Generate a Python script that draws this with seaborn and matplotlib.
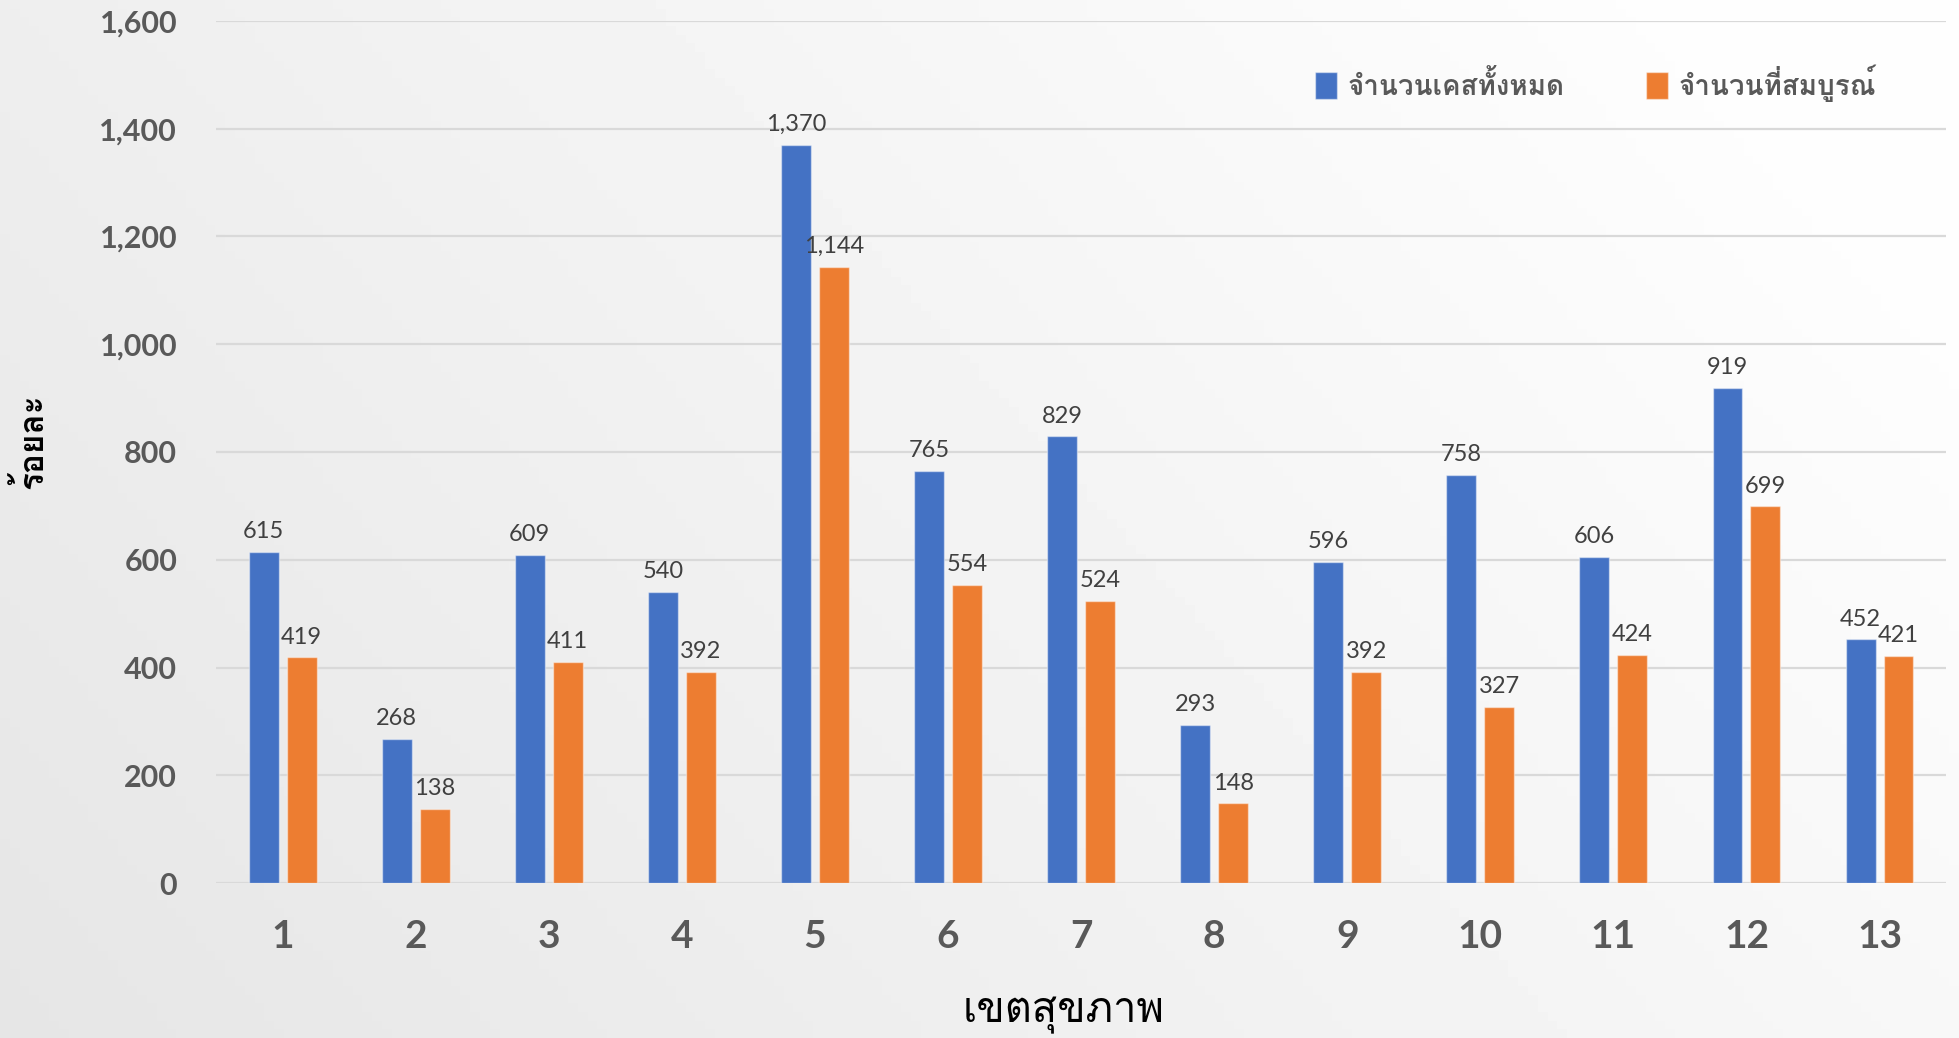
import numpy as np
import pandas as pd
import matplotlib
matplotlib.use("Agg")
import matplotlib.pyplot as plt
import seaborn as sns
from matplotlib import font_manager
from matplotlib.ft2font import FT2Font

# data
regions = [str(i) for i in range(1, 14)]
total_cases = [615, 268, 609, 540, 1370, 765, 829, 293, 596, 758, 606, 919, 452]
complete_cases = [419, 138, 411, 392, 1144, 554, 524, 148, 392, 327, 424, 699, 421]
series_names = ["จำนวนเคสทั้งหมด", "จำนวนที่สมบูรณ์"]
y_ticks = [0, 200, 400, 600, 800, 1000, 1200, 1400, 1600]
x_title = "เขตสุขภาพ"
y_title = "ร้อยละ"

colors = ["#4472C4", "#ED7D31"]


def find_thai_font():
    """Return the name of an installed font that has Thai glyphs."""
    for f in font_manager.fontManager.ttflist:
        try:
            if 0x0E08 in FT2Font(f.fname).get_charmap():
                return f.name
        except Exception:
            continue
    return None


thai_font = find_thai_font()
thai_family = [thai_font, "DejaVu Sans"] if thai_font else ["DejaVu Sans"]
num_family = ["Lato", "DejaVu Sans"]

df = pd.DataFrame({
    "region": regions * 2,
    "value": total_cases + complete_cases,
    "series": [series_names[0]] * len(regions) + [series_names[1]] * len(regions),
})

sns.set_theme(style="white")
plt.rcParams["font.family"] = num_family

fig = plt.figure(figsize=(19.59, 10.38), dpi=100)

# light grey gradient background
bg = fig.add_axes([0, 0, 1, 1], zorder=-10)
xx, yy = np.meshgrid(np.linspace(0, 1, 200), np.linspace(0, 1, 120))
grad = 0.9 + 0.095 * np.clip(0.75 * xx + 0.35 * (1 - yy), 0, 1)
bg.imshow(grad, cmap="gray", vmin=0, vmax=1, aspect="auto", extent=[0, 1, 0, 1])
bg.axis("off")

ax = fig.add_axes([0.1103, 0.1493, 0.8831, 0.8305])
ax.patch.set_alpha(0)

sns.barplot(
    data=df, x="region", y="value", hue="series", order=regions,
    hue_order=series_names, palette=colors, saturation=1, width=0.57, gap=0.21,
    edgecolor=(1, 1, 1, 0.45), linewidth=1, ax=ax, zorder=3,
)

for cont in ax.containers:
    ax.bar_label(cont, fmt="{:,.0f}", padding=7, fontsize=17,
                 color="#404040", fontweight="normal", family=num_family)

ax.set_ylim(0, 1600)
ax.set_xlim(-0.5, 12.5)
ax.set_yticks(y_ticks)
ax.set_yticklabels([f"{v:,}" for v in y_ticks])
ax.yaxis.grid(True, color="#d9d9d9", linewidth=1.6, zorder=0)
ax.set_axisbelow(True)
for side in ["top", "right", "left", "bottom"]:
    ax.spines[side].set_visible(False)
ax.tick_params(axis="y", length=0, pad=28, labelsize=22, labelcolor="#595959")
ax.tick_params(axis="x", length=0, pad=26, labelsize=28, labelcolor="#595959")
for lbl in ax.get_yticklabels() + ax.get_xticklabels():
    lbl.set_fontweight("bold")

ax.set_xlabel(x_title, fontsize=30, color="black", family=thai_family)
ax.xaxis.set_label_coords(0.4896, -0.131)
ax.set_ylabel(y_title, fontsize=24, color="black", fontweight="bold", family=thai_family)
ax.yaxis.set_label_coords(-0.097, 0.513)

handles, labels = ax.get_legend_handles_labels()
ax.legend_.remove()
fig.legend(
    handles, labels, loc="center left", bbox_to_anchor=(0.664, 0.92),
    ncol=2, frameon=False, borderpad=0, handlelength=0.8, handleheight=1.1,
    handletextpad=0.4, columnspacing=2.9,
    prop={"family": thai_family, "size": 20, "weight": "bold"},
    labelcolor="#595959",
)

fig.savefig("out.png", dpi=100)
